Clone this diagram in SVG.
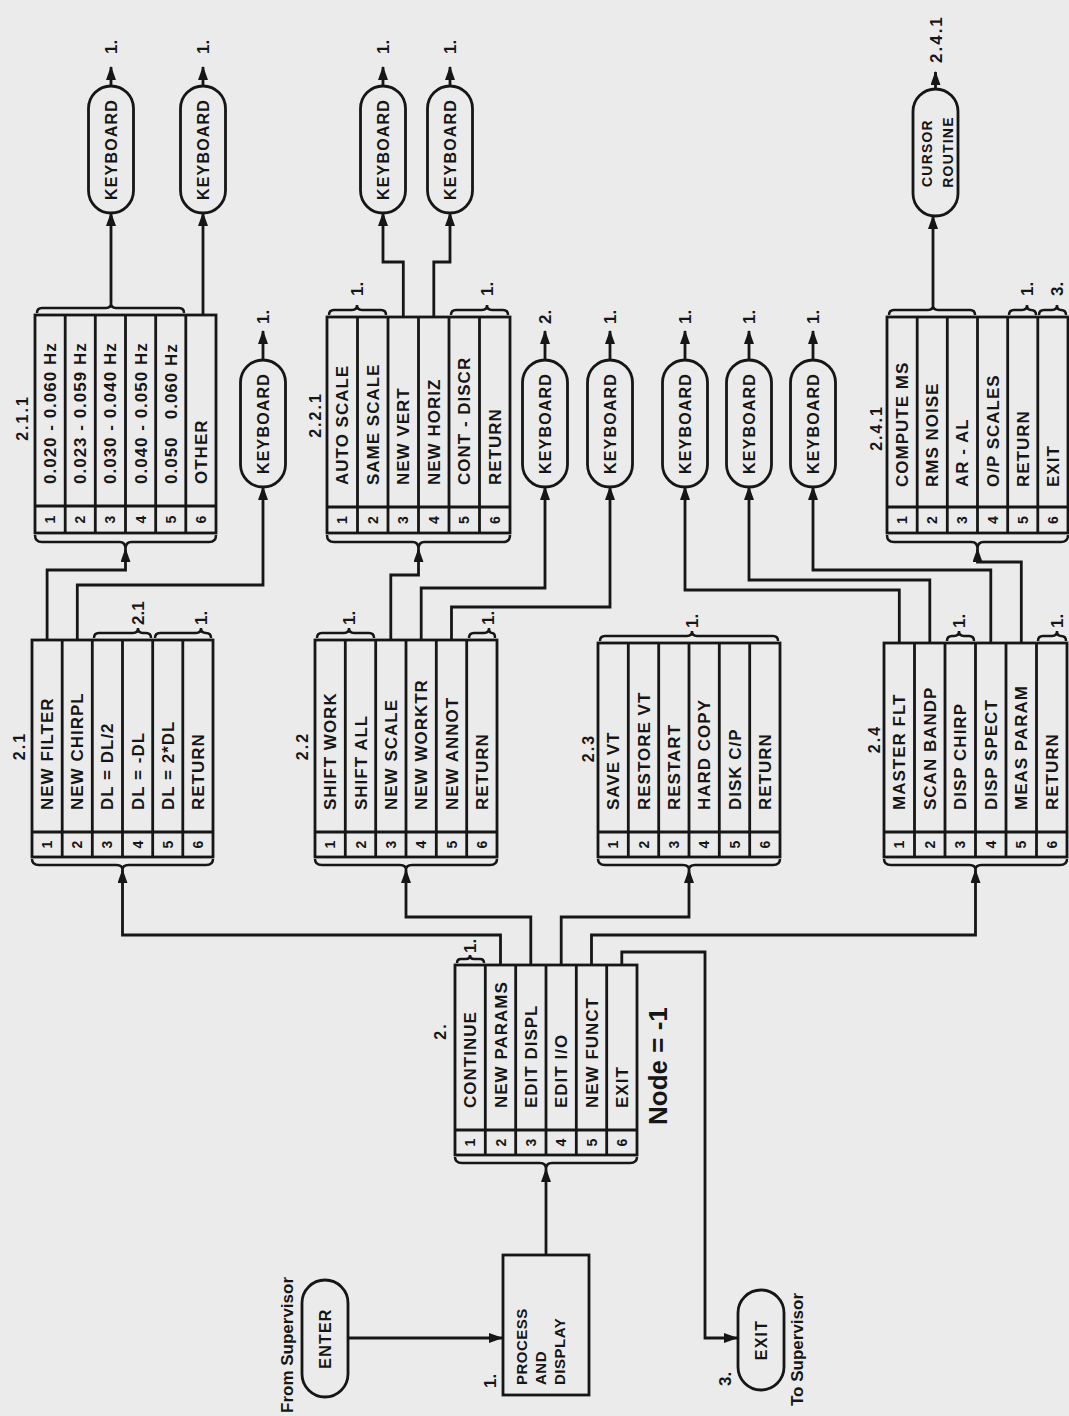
<svg xmlns="http://www.w3.org/2000/svg" width="1069" height="1416" viewBox="0 0 1069 1416">
<defs>
<style>
.ln{fill:none;stroke:#161616;stroke-width:2.8}
.bx{fill:none;stroke:#161616;stroke-width:2.8}
.pl{fill:none;stroke:#161616;stroke-width:2.8}
.br{fill:none;stroke:#161616;stroke-width:2.5}
text{font-family:"Liberation Sans",Arial,sans-serif;font-weight:bold;fill:#161616}
.t{font-size:17px;letter-spacing:1px}
.n{font-size:14px;text-anchor:middle}
.h{font-size:16px;letter-spacing:2px;text-anchor:middle}
.k{font-size:16px;letter-spacing:1.2px;text-anchor:middle}
.lb{font-size:17px}
.pd{font-size:15px;letter-spacing:0.5px}
</style>
<marker id="ah" viewBox="0 0 14 10" refX="13" refY="5" markerWidth="14" markerHeight="10" markerUnits="userSpaceOnUse" orient="auto"><path d="M0,0 L14,5 L0,10 z" fill="#161616"/></marker>
</defs>
<rect width="1069" height="1416" fill="#ebebeb"/>
<g transform="matrix(0,-1,1,0,0,1416)">

<g id="start">
<rect class="pl" x="19" y="302" width="117" height="46" rx="23"/>
<text class="k" x="77.5" y="331">ENTER</text>
<text class="lb" x="3" y="293">From Supervisor</text>
</g>

<g id="node-1">
<rect class="bx" x="21" y="503" width="140" height="86"/>
<text class="pd" x="31" y="527">PROCESS</text>
<text class="pd" x="31" y="546">AND</text>
<text class="pd" x="31" y="565">DISPLAY</text>
<text class="lb" x="28" y="496">1.</text>
</g>

<g id="exit">
<rect class="pl" x="26" y="738" width="100" height="46" rx="23"/>
<text class="k" x="76" y="767">EXIT</text>
<text class="lb" x="30" y="731">3.</text>
<text class="lb" x="10" y="803">To Supervisor</text>
</g>

<g id="menu-2">
<rect class="bx" x="261" y="455" width="190" height="182"/>
<path class="bx" d="M286,455V637M261,485.3H451M261,515.7H451M261,546H451M261,576.3H451M261,606.7H451"/>
<text class="n" x="273.5" y="475.2">1</text><text class="n" x="273.5" y="505.5">2</text><text class="n" x="273.5" y="535.8">3</text><text class="n" x="273.5" y="566.2">4</text><text class="n" x="273.5" y="596.5">5</text><text class="n" x="273.5" y="626.8">6</text>
<text class="t" x="308" y="476.2">CONTINUE</text>
<text class="t" x="308" y="506.5">NEW PARAMS</text>
<text class="t" x="308" y="536.8">EDIT DISPL</text>
<text class="t" x="308" y="567.2">EDIT I/O</text>
<text class="t" x="308" y="597.5">NEW FUNCT</text>
<text class="t" x="308" y="627.8">EXIT</text>
<text class="h" x="385" y="446">2.</text>
<path class="br" d="M259,455 Q253,455 253,462 L253,540 Q253,546 247,546 Q253,546 253,552 L253,630 Q253,637 259,637"/>
<path class="br" d="M453,457 Q457,457 457,461 L457,466 Q457,470 461,470 Q457,470 457,474 L457,480 Q457,484 453,484"/>
<text class="lb" x="463" y="476">1.</text>
<text class="lb" style="font-size:26px" x="291" y="667">Node = -1</text>
</g>

<g id="menu-2-1">
<rect class="bx" x="559" y="32" width="217" height="181"/>
<path class="bx" d="M584,32V213M559,62.2H776M559,92.3H776M559,122.5H776M559,152.7H776M559,182.8H776"/>
<text class="n" x="571.5" y="52.1">1</text><text class="n" x="571.5" y="82.3">2</text><text class="n" x="571.5" y="112.4">3</text><text class="n" x="571.5" y="142.6">4</text><text class="n" x="571.5" y="172.8">5</text><text class="n" x="571.5" y="202.9">6</text>
<text class="t" x="606" y="53.1">NEW FILTER</text>
<text class="t" x="606" y="83.3">NEW CHIRPL</text>
<text class="t" x="606" y="113.4">DL = DL/2</text>
<text class="t" x="606" y="143.6">DL = -DL</text>
<text class="t" x="606" y="173.8">DL = 2*DL</text>
<text class="t" x="606" y="203.9">RETURN</text>
<text class="h" x="670" y="25">2.1</text>
<path class="br" d="M557,32 Q551,32 551,39 L551,116.5 Q551,122.5 546,122.5 Q551,122.5 551,128.5 L551,206 Q551,213 557,213"/>
<path class="br" d="M778,94 Q783,94 783,99 L783,133 Q783,138 788,138 Q783,138 783,143 L783,146 Q783,151 778,151"/>
<text class="lb" x="791" y="144">2.1</text>
<path class="br" d="M778,155 Q783,155 783,160 L783,196 Q783,201 788,201 Q783,201 783,206 Q783,211 778,211"/>
<text class="lb" x="791" y="207">1.</text>
</g>

<g id="menu-2-2">
<rect class="bx" x="559" y="315" width="217" height="182"/>
<path class="bx" d="M584,315V497M559,345.3H776M559,375.7H776M559,406H776M559,436.3H776M559,466.7H776"/>
<text class="n" x="571.5" y="335.2">1</text><text class="n" x="571.5" y="365.5">2</text><text class="n" x="571.5" y="395.8">3</text><text class="n" x="571.5" y="426.2">4</text><text class="n" x="571.5" y="456.5">5</text><text class="n" x="571.5" y="486.8">6</text>
<text class="t" x="606" y="336.2">SHIFT WORK</text>
<text class="t" x="606" y="366.5">SHIFT ALL</text>
<text class="t" x="606" y="396.8">NEW SCALE</text>
<text class="t" x="606" y="427.2">NEW WORKTR</text>
<text class="t" x="606" y="457.5">NEW ANNOT</text>
<text class="t" x="606" y="487.8">RETURN</text>
<text class="h" x="670" y="308">2.2</text>
<path class="br" d="M557,315 Q551,315 551,322 L551,400 Q551,406 546,406 Q551,406 551,412 L551,490 Q551,497 557,497"/>
<path class="br" d="M778,317 Q783,317 783,322 L783,344 Q783,349 788,349 Q783,349 783,354 L783,369 Q783,374 778,374"/>
<text class="lb" x="791" y="355">1.</text>
<path class="br" d="M778,469 Q783,469 783,474 L783,484 Q783,489 788,489 Q783,489 783,492 Q783,495 778,495"/>
<text class="lb" x="791" y="494">1.</text>
</g>

<g id="menu-2-3">
<rect class="bx" x="559" y="598" width="214" height="182"/>
<path class="bx" d="M584,598V780M559,628.3H773M559,658.7H773M559,689H773M559,719.3H773M559,749.7H773"/>
<text class="n" x="571.5" y="618.2">1</text><text class="n" x="571.5" y="648.5">2</text><text class="n" x="571.5" y="678.8">3</text><text class="n" x="571.5" y="709.2">4</text><text class="n" x="571.5" y="739.5">5</text><text class="n" x="571.5" y="769.8">6</text>
<text class="t" x="606" y="619.2">SAVE VT</text>
<text class="t" x="606" y="649.5">RESTORE VT</text>
<text class="t" x="606" y="679.8">RESTART</text>
<text class="t" x="606" y="710.2">HARD COPY</text>
<text class="t" x="606" y="740.5">DISK C/P</text>
<text class="t" x="606" y="770.8">RETURN</text>
<text class="h" x="668" y="594">2.3</text>
<path class="br" d="M557,598 Q551,598 551,605 L551,683 Q551,689 546,689 Q551,689 551,695 L551,773 Q551,780 557,780"/>
<path class="br" d="M775,600 Q780,600 780,605 L780,687 Q780,692 785,692 Q780,692 780,697 L780,773 Q780,778 775,778"/>
<text class="lb" x="788" y="698">1.</text>
</g>

<g id="menu-2-4">
<rect class="bx" x="559" y="884" width="214" height="183"/>
<path class="bx" d="M584,884V1067M559,914.5H773M559,945H773M559,975.5H773M559,1006H773M559,1036.5H773"/>
<text class="n" x="571.5" y="904.3">1</text><text class="n" x="571.5" y="934.8">2</text><text class="n" x="571.5" y="965.3">3</text><text class="n" x="571.5" y="995.8">4</text><text class="n" x="571.5" y="1026.3">5</text><text class="n" x="571.5" y="1056.8">6</text>
<text class="t" x="606" y="905.3">MASTER FLT</text>
<text class="t" x="606" y="935.8">SCAN BANDP</text>
<text class="t" x="606" y="966.3">DISP CHIRP</text>
<text class="t" x="606" y="996.8">DISP SPECT</text>
<text class="t" x="606" y="1027.3">MEAS PARAM</text>
<text class="t" x="606" y="1057.8">RETURN</text>
<text class="h" x="677" y="880">2.4</text>
<path class="br" d="M557,884 Q551,884 551,891 L551,969.5 Q551,975.5 546,975.5 Q551,975.5 551,981.5 L551,1060 Q551,1067 557,1067"/>
<path class="br" d="M775,947 Q780,947 780,952 L780,954 Q780,959 785,959 Q780,959 780,964 L780,969 Q780,974 775,974"/>
<text class="lb" x="788" y="965">1.</text>
<path class="br" d="M775,1038 Q780,1038 780,1043 L780,1052 Q780,1057 785,1057 Q780,1057 780,1061 Q780,1066 775,1066"/>
<text class="lb" x="788" y="1063">1.</text>
</g>

<g id="menu-2-1-1">
<rect class="bx" x="883" y="35" width="218" height="181"/>
<path class="bx" d="M910,35V216M883,65.2H1101M883,95.3H1101M883,125.5H1101M883,155.7H1101M883,185.8H1101"/>
<text class="n" x="896.5" y="55.1">1</text><text class="n" x="896.5" y="85.3">2</text><text class="n" x="896.5" y="115.4">3</text><text class="n" x="896.5" y="145.6">4</text><text class="n" x="896.5" y="175.8">5</text><text class="n" x="896.5" y="205.9">6</text>
<text class="t" x="932" y="56.1">0.020 - 0.060 Hz</text>
<text class="t" x="932" y="86.3">0.023 - 0.059 Hz</text>
<text class="t" x="932" y="116.4">0.030 - 0.040 Hz</text>
<text class="t" x="932" y="146.6">0.040 - 0.050 Hz</text>
<text class="t" x="932" y="176.8" xml:space="preserve">0.050   0.060 Hz</text>
<text class="t" x="932" y="206.9">OTHER</text>
<text class="h" x="998" y="28">2.1.1</text>
<path class="br" d="M881,35 Q874,35 874,42 L874,119.5 Q874,125.5 867,125.5 Q874,125.5 874,131.5 L874,209 Q874,216 881,216"/>
<path class="br" d="M1103,37 Q1108,37 1108,42 L1108,106 Q1108,111 1113,111 Q1108,111 1108,116 L1108,179 Q1108,184 1103,184"/>
</g>

<g id="menu-2-2-1">
<rect class="bx" x="883" y="327" width="216" height="183"/>
<path class="bx" d="M909,327V510M883,357.5H1099M883,388H1099M883,418.5H1099M883,449H1099M883,479.5H1099"/>
<text class="n" x="896" y="347.3">1</text><text class="n" x="896" y="377.8">2</text><text class="n" x="896" y="408.3">3</text><text class="n" x="896" y="438.8">4</text><text class="n" x="896" y="469.3">5</text><text class="n" x="896" y="499.8">6</text>
<text class="t" x="931" y="348.3">AUTO SCALE</text>
<text class="t" x="931" y="378.8">SAME SCALE</text>
<text class="t" x="931" y="409.3">NEW VERT</text>
<text class="t" x="931" y="439.8">NEW HORIZ</text>
<text class="t" x="931" y="470.3">CONT - DISCR</text>
<text class="t" x="931" y="500.8">RETURN</text>
<text class="h" x="1001" y="321">2.2.1</text>
<path class="br" d="M881,327 Q874,327 874,334 L874,412.5 Q874,418.5 867,418.5 Q874,418.5 874,424.5 L874,503 Q874,510 881,510"/>
<path class="br" d="M1101,329 Q1106,329 1106,334 L1106,352 Q1106,357 1111,357 Q1106,357 1106,362 L1106,381 Q1106,386 1101,386"/>
<text class="lb" x="1120" y="363">1.</text>
<path class="br" d="M1101,451 Q1106,451 1106,456 L1106,482 Q1106,487 1111,487 Q1106,487 1106,492 L1106,503 Q1106,508 1101,508"/>
<text class="lb" x="1120" y="493">1.</text>
</g>

<g id="menu-2-4-1">
<rect class="bx" x="883" y="887" width="216" height="181"/>
<path class="bx" d="M909,887V1068M883,917.2H1099M883,947.3H1099M883,977.5H1099M883,1007.7H1099M883,1037.8H1099"/>
<text class="n" x="896" y="907.1">1</text><text class="n" x="896" y="937.3">2</text><text class="n" x="896" y="967.4">3</text><text class="n" x="896" y="997.6">4</text><text class="n" x="896" y="1027.8">5</text><text class="n" x="896" y="1057.9">6</text>
<text class="t" x="929" y="908.1">COMPUTE MS</text>
<text class="t" x="929" y="938.3">RMS NOISE</text>
<text class="t" x="929" y="968.4">AR - AL</text>
<text class="t" x="929" y="998.6">O/P SCALES</text>
<text class="t" x="929" y="1028.8">RETURN</text>
<text class="t" x="929" y="1058.9">EXIT</text>
<text class="h" x="988" y="882">2.4.1</text>
<path class="br" d="M881,887 Q874,887 874,894 L874,971.5 Q874,977.5 867,977.5 Q874,977.5 874,983.5 L874,1061 Q874,1068 881,1068"/>
<path class="br" d="M1101,889 Q1106,889 1106,894 L1106,928 Q1106,933 1111,933 Q1106,933 1106,938 L1106,970 Q1106,975 1101,975"/>
<path class="br" d="M1101,1009 Q1106,1009 1106,1014 L1106,1022 Q1106,1027 1111,1027 Q1106,1027 1106,1031 Q1106,1036 1101,1036"/>
<text class="lb" x="1120" y="1033">1.</text>
<path class="br" d="M1101,1039 Q1106,1039 1106,1044 L1106,1052 Q1106,1057 1111,1057 Q1106,1057 1106,1061 Q1106,1066 1101,1066"/>
<text class="lb" x="1120" y="1063">3.</text>
</g>

<g id="kb-1"><rect class="pl" x="1203" y="88.5" width="127" height="45" rx="22.5"/><text class="k" x="1266.5" y="116.5">KEYBOARD</text><text class="lb" x="1362" y="117">1.</text></g>
<g id="kb-2"><rect class="pl" x="1203" y="180.5" width="127" height="45" rx="22.5"/><text class="k" x="1266.5" y="208.5">KEYBOARD</text><text class="lb" x="1362" y="209">1.</text></g>
<g id="kb-3"><rect class="pl" x="929" y="240.5" width="127" height="45" rx="22.5"/><text class="k" x="992.5" y="268.5">KEYBOARD</text><text class="lb" x="1092" y="269">1.</text></g>
<g id="kb-4"><rect class="pl" x="1203" y="360.5" width="127" height="45" rx="22.5"/><text class="k" x="1266.5" y="388.5">KEYBOARD</text><text class="lb" x="1362" y="389">1.</text></g>
<g id="kb-5"><rect class="pl" x="1203" y="427.5" width="127" height="45" rx="22.5"/><text class="k" x="1266.5" y="455.5">KEYBOARD</text><text class="lb" x="1362" y="456">1.</text></g>
<g id="kb-6"><rect class="pl" x="929" y="522.5" width="127" height="45" rx="22.5"/><text class="k" x="992.5" y="550.5">KEYBOARD</text><text class="lb" x="1092" y="551">2.</text></g>
<g id="kb-7"><rect class="pl" x="929" y="587.5" width="127" height="45" rx="22.5"/><text class="k" x="992.5" y="615.5">KEYBOARD</text><text class="lb" x="1092" y="616">1.</text></g>
<g id="kb-8"><rect class="pl" x="929" y="662.5" width="127" height="45" rx="22.5"/><text class="k" x="992.5" y="690.5">KEYBOARD</text><text class="lb" x="1092" y="691">1.</text></g>
<g id="kb-9"><rect class="pl" x="929" y="726.5" width="127" height="45" rx="22.5"/><text class="k" x="992.5" y="754.5">KEYBOARD</text><text class="lb" x="1092" y="755">1.</text></g>
<g id="kb-10"><rect class="pl" x="929" y="790.5" width="127" height="45" rx="22.5"/><text class="k" x="992.5" y="818.5">KEYBOARD</text><text class="lb" x="1092" y="819">1.</text></g>
<g id="cursor"><rect class="pl" x="1200" y="913" width="127" height="45" rx="22.5"/><text class="k" style="font-size:14px" x="1263" y="932">CURSOR</text><text class="k" style="font-size:14px" x="1264" y="953">ROUTINE</text><text class="lb" style="letter-spacing:2px" x="1353" y="941.5">2.4.1</text></g>

<g id="connectors" marker-end="url(#ah)">
<path class="ln" d="M451,500.5 L481,500.5 L481,122.5 L546,122.5"/>
<path class="ln" d="M451,530.8 L499,530.8 L499,406 L546,406"/>
<path class="ln" d="M451,561.2 L499,561.2 L499,689 L546,689"/>
<path class="ln" d="M451,591.5 L481,591.5 L481,975.5 L546,975.5"/>
<path class="ln" d="M451,621.8 L464,621.8 L464,705 L78,705 L78,737"/>
<path class="ln" d="M78,348 L78,502"/>
<path class="ln" d="M161,546 L247,546"/>
<path class="ln" d="M776,47.1 L846,47.1 L846,125.5 L867,125.5"/>
<path class="ln" d="M776,77.3 L831,77.3 L831,263 L929,263"/>
<path class="ln" d="M776,390.8 L841,390.8 L841,418.5 L867,418.5"/>
<path class="ln" d="M776,421.2 L828,421.2 L828,545 L929,545"/>
<path class="ln" d="M776,451.5 L809,451.5 L809,610 L929,610"/>
<path class="ln" d="M773,899.3 L826,899.3 L826,685 L929,685"/>
<path class="ln" d="M773,929.8 L836,929.8 L836,749 L929,749"/>
<path class="ln" d="M773,990.8 L846,990.8 L846,813 L929,813"/>
<path class="ln" d="M773,1021.3 L854,1021.3 L854,977.5 L867,977.5"/>
<path class="ln" d="M1113,111 L1203,111"/>
<path class="ln" d="M1101,203 L1203,203"/>
<path class="ln" d="M1099,403.3 L1154,403.3 L1154,383 L1203,383"/>
<path class="ln" d="M1099,433.8 L1154,433.8 L1154,450 L1203,450"/>
<path class="ln" d="M1111,933 L1200,933"/>
<path class="ln" d="M1330,111 L1349,111"/>
<path class="ln" d="M1330,203 L1349,203"/>
<path class="ln" d="M1330,383 L1349,383"/>
<path class="ln" d="M1330,450 L1349,450"/>
<path class="ln" d="M1327,935.5 L1344,935.5"/>
<path class="ln" d="M1056,263 L1085,263"/>
<path class="ln" d="M1056,545 L1085,545"/>
<path class="ln" d="M1056,610 L1085,610"/>
<path class="ln" d="M1056,685 L1085,685"/>
<path class="ln" d="M1056,749 L1085,749"/>
<path class="ln" d="M1056,813 L1085,813"/>
</g>
</g>
</svg>
